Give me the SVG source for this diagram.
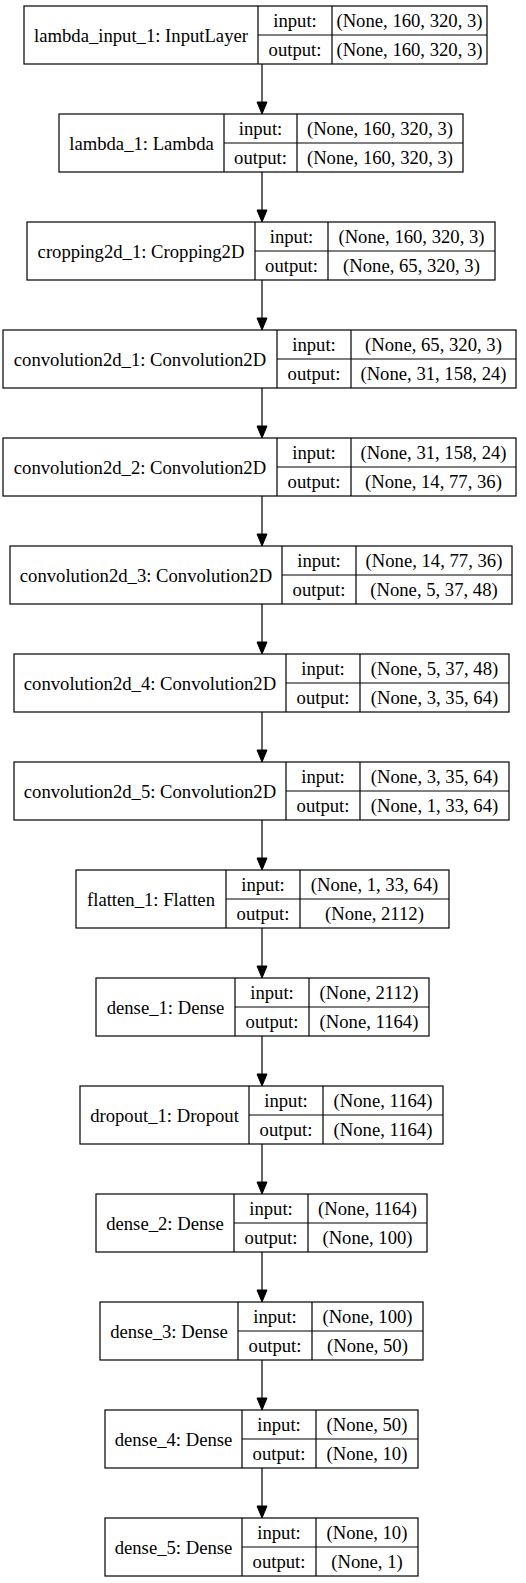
<svg xmlns="http://www.w3.org/2000/svg" width="526" height="1583" viewBox="0 0 526 1583">
<style>
.b{fill:#fff;stroke:#000;stroke-width:1.2}
.l{stroke:#000;stroke-width:1.2;fill:none}
text{font-family:"Liberation Serif","Times New Roman",serif;font-size:18.67px;fill:#000;text-anchor:middle}
.e{stroke:#000;stroke-width:1.2;fill:none}
.h{fill:#000;stroke:#000;stroke-width:1}
</style>
<rect width="526" height="1583" fill="#fff"/>
<g id="connectors">
<path class="e" d="M262,64V103M262,172V211M262,280V319M262,388V427M262,496V535M262,604V643M262,712V751M262,820V859M262,928V967M262,1036V1075M262,1144V1183M262,1252V1291M262,1360V1399M262,1468V1507"/>
<polygon class="h" points="262,114 257,102 267,102"/>
<polygon class="h" points="262,222 257,210 267,210"/>
<polygon class="h" points="262,330 257,318 267,318"/>
<polygon class="h" points="262,438 257,426 267,426"/>
<polygon class="h" points="262,546 257,534 267,534"/>
<polygon class="h" points="262,654 257,642 267,642"/>
<polygon class="h" points="262,762 257,750 267,750"/>
<polygon class="h" points="262,870 257,858 267,858"/>
<polygon class="h" points="262,978 257,966 267,966"/>
<polygon class="h" points="262,1086 257,1074 267,1074"/>
<polygon class="h" points="262,1194 257,1182 267,1182"/>
<polygon class="h" points="262,1302 257,1290 267,1290"/>
<polygon class="h" points="262,1410 257,1398 267,1398"/>
<polygon class="h" points="262,1518 257,1506 267,1506"/>
</g>
<g id="lambda_input_1" transform="translate(0,6)">
<rect class="b" x="24" y="0" width="463" height="58"/>
<path class="l" d="M258,0V58M332,0V58M258,29H487"/>
<text x="141" y="35.5">lambda_input_1: InputLayer</text>
<text x="295" y="20.8">input:</text><text x="409.5" y="20.8">(None, 160, 320, 3)</text>
<text x="295" y="49.8">output:</text><text x="409.5" y="49.8">(None, 160, 320, 3)</text>
</g>
<g id="lambda_1" transform="translate(0,114)">
<rect class="b" x="59" y="0" width="404" height="58"/>
<path class="l" d="M224,0V58M297,0V58M224,29H463"/>
<text x="141.5" y="35.5">lambda_1: Lambda</text>
<text x="260.5" y="20.8">input:</text><text x="380" y="20.8">(None, 160, 320, 3)</text>
<text x="260.5" y="49.8">output:</text><text x="380" y="49.8">(None, 160, 320, 3)</text>
</g>
<g id="cropping2d_1" transform="translate(0,222)">
<rect class="b" x="27" y="0" width="468" height="58"/>
<path class="l" d="M255,0V58M328,0V58M255,29H495"/>
<text x="141" y="35.5">cropping2d_1: Cropping2D</text>
<text x="291.5" y="20.8">input:</text><text x="411.5" y="20.8">(None, 160, 320, 3)</text>
<text x="291.5" y="49.8">output:</text><text x="411.5" y="49.8">(None, 65, 320, 3)</text>
</g>
<g id="convolution2d_1" transform="translate(0,330)">
<rect class="b" x="3" y="0" width="513" height="58"/>
<path class="l" d="M277,0V58M351,0V58M277,29H516"/>
<text x="140" y="35.5">convolution2d_1: Convolution2D</text>
<text x="314" y="20.8">input:</text><text x="433.5" y="20.8">(None, 65, 320, 3)</text>
<text x="314" y="49.8">output:</text><text x="433.5" y="49.8">(None, 31, 158, 24)</text>
</g>
<g id="convolution2d_2" transform="translate(0,438)">
<rect class="b" x="3" y="0" width="513" height="58"/>
<path class="l" d="M277,0V58M351,0V58M277,29H516"/>
<text x="140" y="35.5">convolution2d_2: Convolution2D</text>
<text x="314" y="20.8">input:</text><text x="433.5" y="20.8">(None, 31, 158, 24)</text>
<text x="314" y="49.8">output:</text><text x="433.5" y="49.8">(None, 14, 77, 36)</text>
</g>
<g id="convolution2d_3" transform="translate(0,546)">
<rect class="b" x="10" y="0" width="502" height="58"/>
<path class="l" d="M282,0V58M356,0V58M282,29H512"/>
<text x="146" y="35.5">convolution2d_3: Convolution2D</text>
<text x="319" y="20.8">input:</text><text x="434" y="20.8">(None, 14, 77, 36)</text>
<text x="319" y="49.8">output:</text><text x="434" y="49.8">(None, 5, 37, 48)</text>
</g>
<g id="convolution2d_4" transform="translate(0,654)">
<rect class="b" x="14" y="0" width="495" height="58"/>
<path class="l" d="M286,0V58M360,0V58M286,29H509"/>
<text x="150" y="35.5">convolution2d_4: Convolution2D</text>
<text x="323" y="20.8">input:</text><text x="434.5" y="20.8">(None, 5, 37, 48)</text>
<text x="323" y="49.8">output:</text><text x="434.5" y="49.8">(None, 3, 35, 64)</text>
</g>
<g id="convolution2d_5" transform="translate(0,762)">
<rect class="b" x="14" y="0" width="495" height="58"/>
<path class="l" d="M286,0V58M360,0V58M286,29H509"/>
<text x="150" y="35.5">convolution2d_5: Convolution2D</text>
<text x="323" y="20.8">input:</text><text x="434.5" y="20.8">(None, 3, 35, 64)</text>
<text x="323" y="49.8">output:</text><text x="434.5" y="49.8">(None, 1, 33, 64)</text>
</g>
<g id="flatten_1" transform="translate(0,870)">
<rect class="b" x="76" y="0" width="373" height="58"/>
<path class="l" d="M226,0V58M300,0V58M226,29H449"/>
<text x="151" y="35.5">flatten_1: Flatten</text>
<text x="263" y="20.8">input:</text><text x="374.5" y="20.8">(None, 1, 33, 64)</text>
<text x="263" y="49.8">output:</text><text x="374.5" y="49.8">(None, 2112)</text>
</g>
<g id="dense_1" transform="translate(0,978)">
<rect class="b" x="96" y="0" width="333" height="58"/>
<path class="l" d="M235,0V58M309,0V58M235,29H429"/>
<text x="165.5" y="35.5">dense_1: Dense</text>
<text x="272" y="20.8">input:</text><text x="369" y="20.8">(None, 2112)</text>
<text x="272" y="49.8">output:</text><text x="369" y="49.8">(None, 1164)</text>
</g>
<g id="dropout_1" transform="translate(0,1086)">
<rect class="b" x="80" y="0" width="363" height="58"/>
<path class="l" d="M249,0V58M323,0V58M249,29H443"/>
<text x="164.5" y="35.5">dropout_1: Dropout</text>
<text x="286" y="20.8">input:</text><text x="383" y="20.8">(None, 1164)</text>
<text x="286" y="49.8">output:</text><text x="383" y="49.8">(None, 1164)</text>
</g>
<g id="dense_2" transform="translate(0,1194)">
<rect class="b" x="96" y="0" width="331" height="58"/>
<path class="l" d="M234,0V58M308,0V58M234,29H427"/>
<text x="165" y="35.5">dense_2: Dense</text>
<text x="271" y="20.8">input:</text><text x="367.5" y="20.8">(None, 1164)</text>
<text x="271" y="49.8">output:</text><text x="367.5" y="49.8">(None, 100)</text>
</g>
<g id="dense_3" transform="translate(0,1302)">
<rect class="b" x="100" y="0" width="323" height="58"/>
<path class="l" d="M238,0V58M312,0V58M238,29H423"/>
<text x="169" y="35.5">dense_3: Dense</text>
<text x="275" y="20.8">input:</text><text x="367.5" y="20.8">(None, 100)</text>
<text x="275" y="49.8">output:</text><text x="367.5" y="49.8">(None, 50)</text>
</g>
<g id="dense_4" transform="translate(0,1410)">
<rect class="b" x="105" y="0" width="313" height="58"/>
<path class="l" d="M242,0V58M316,0V58M242,29H418"/>
<text x="173.5" y="35.5">dense_4: Dense</text>
<text x="279" y="20.8">input:</text><text x="367" y="20.8">(None, 50)</text>
<text x="279" y="49.8">output:</text><text x="367" y="49.8">(None, 10)</text>
</g>
<g id="dense_5" transform="translate(0,1518)">
<rect class="b" x="105" y="0" width="313" height="58"/>
<path class="l" d="M242,0V58M316,0V58M242,29H418"/>
<text x="173.5" y="35.5">dense_5: Dense</text>
<text x="279" y="20.8">input:</text><text x="367" y="20.8">(None, 10)</text>
<text x="279" y="49.8">output:</text><text x="367" y="49.8">(None, 1)</text>
</g>
</svg>
